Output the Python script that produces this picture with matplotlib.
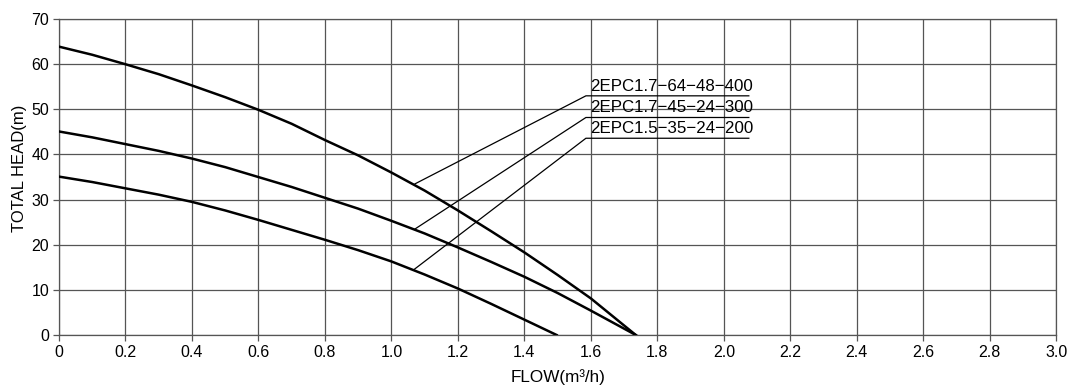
import numpy as np
import matplotlib.pyplot as plt

plt.rcParams['font.family'] = ['Liberation Sans', 'DejaVu Sans']

# pump curves: flow (m3/h) vs total head (m)
flow_400 = [0, 0.1, 0.2, 0.3, 0.4, 0.5, 0.6, 0.7, 0.8, 0.9, 1.0, 1.1, 1.2, 1.3, 1.4, 1.5, 1.6, 1.7, 1.735]
head_400 = [63.9, 62.1, 60, 57.8, 55.3, 52.7, 49.9, 46.8, 43.2, 39.8, 36.0, 32.0, 27.6, 23.0, 18.3, 13.3, 8.1, 2.1, 0]
flow_300 = [0, 0.1, 0.2, 0.3, 0.4, 0.5, 0.6, 0.7, 0.8, 0.9, 1.0, 1.1, 1.2, 1.3, 1.4, 1.5, 1.6, 1.7, 1.735]
head_300 = [45.1, 43.8, 42.3, 40.8, 39.1, 37.2, 35.0, 32.8, 30.4, 28.0, 25.3, 22.5, 19.4, 16.2, 12.9, 9.3, 5.4, 1.4, 0]
flow_200 = [0, 0.1, 0.2, 0.3, 0.4, 0.5, 0.6, 0.7, 0.8, 0.9, 1.0, 1.1, 1.2, 1.3, 1.4, 1.497]
head_200 = [35.1, 33.9, 32.5, 31.1, 29.5, 27.6, 25.5, 23.3, 21.1, 18.8, 16.3, 13.4, 10.3, 6.9, 3.4, 0]

labels = ['2EPC1.7\u221264\u221248\u2212400',
          '2EPC1.7\u221245\u221224\u2212300',
          '2EPC1.5\u221235\u221224\u2212200']
# leader start on curve, and label underline height
lead_from = [(1.071, 33.5), (1.071, 23.5), (1.066, 14.4)]
lead_y = [53.0, 48.2, 43.6]

fig = plt.figure(figsize=(10.8, 3.9), dpi=100)
ax = fig.add_axes([0.0546, 0.141, 0.9235, 0.81])

for f, h in [(flow_400, head_400), (flow_300, head_300), (flow_200, head_200)]:
    ax.plot(f, h, color='black', lw=1.8, zorder=3, solid_joinstyle='round')

for lab, (x0, y0), yl in zip(labels, lead_from, lead_y):
    ax.plot([x0, 1.585, 2.075], [y0, yl, yl], color='black', lw=0.9, zorder=3)
    ax.text(1.598, yl + 0.5, lab, fontsize=12.2, ha='left', va='bottom', zorder=4)

ax.set_xlim(0, 3.0)
ax.set_ylim(0, 70)
ax.set_xticks(np.arange(0, 3.01, 0.2))
ax.set_xticklabels(['0'] + [f'{v:.1f}' for v in np.arange(0.2, 3.01, 0.2)])
ax.set_yticks(np.arange(0, 71, 10))
ax.grid(True, color='#555555', lw=0.9)
ax.set_axisbelow(True)
for s in ax.spines.values():
    s.set_color('#555555')
    s.set_linewidth(0.9)
ax.tick_params(length=4, width=0.9, color='#555555', labelsize=11.5, pad=3)
ax.set_xlabel('FLOW(m\u00b3/h)', fontsize=12.3, labelpad=7)
ax.set_ylabel('TOTAL HEAD(m)', fontsize=12)
ax.yaxis.set_label_coords(-0.032, 0.527)

fig.savefig('out.png', dpi=100)
